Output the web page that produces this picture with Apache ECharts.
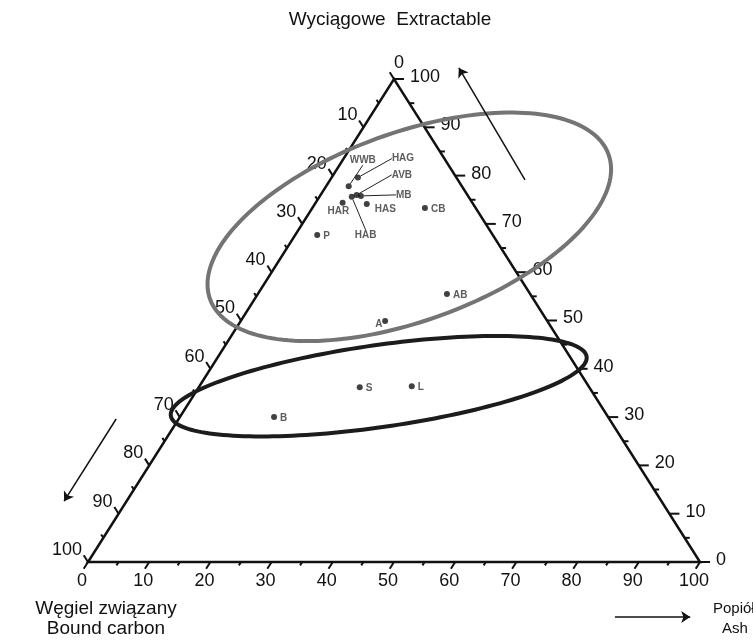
<!DOCTYPE html>
<html>
<head>
<meta charset="utf-8">
<title>Ternary diagram</title>
<script src="https://cdn.jsdelivr.net/npm/echarts@6/dist/echarts.min.js"></script>
<style>
  html, body { margin: 0; padding: 0; background: #fff; }
  #chart { width: 753px; height: 641px; }
</style>
</head>
<body>
<div id="chart"></div>
<script>
// samples, ternary percentages (bound carbon = 100 - extractable - ash)
const sampleNames = ['WWB', 'HAG', 'HAB', 'AVB', 'MB', 'HAS', 'HAR', 'CB', 'P', 'AB', 'A', 'S', 'L', 'B'];
const extractable = [77.8, 79.6, 75.6, 76.0, 75.8, 74.1, 74.4, 73.3, 67.7, 55.5, 49.9, 36.2, 36.4, 30.0];
const ash = [3.7, 4.3, 5.3, 5.9, 6.7, 8.5, 4.4, 18.4, 3.6, 30.9, 23.6, 26.3, 34.7, 15.4];

// axis ticks
const majorTicks = [0, 10, 20, 30, 40, 50, 60, 70, 80, 90, 100];
const tickLabels = ['0', '10', '20', '30', '40', '50', '60', '70', '80', '90', '100'];
const minorTicks = [5, 15, 25, 35, 45, 55, 65, 75, 85, 95];

// group ellipses: centre as (ash, extractable), semi-axes as vectors in diagram units
const ringCentreAsh = [17.8, 29.3];
const ringCentreExt = [69.4, 36.4];
const ringAxisU = [[32.55, 15.01], [33.97, 6.13]];
const ringAxisV = [[5.25, -18.29], [0.94, -8.41]];

// direction arrows, diagram units [x, y]
const arrowFrom = [[71.4, 79.1], [4.6, 29.6], [86.1, -11.4]];
const arrowTo = [[60.6, 102.3], [-3.9, 12.6], [98.4, -11.4]];

// ternary -> diagram coords (x = ash + ext/2, y = ext)
function tern(a, e) {
  return [a + e / 2, e];
}

const FONT = '"Liberation Sans", Arial, sans-serif';

// label placement per sample: [dx, dy, leader line]
const labelMove = {
  WWB: [-5, -26, true], HAG: [28, -19, true], AVB: [29, -20, true], MB: [29, -1, true],
  HAB: [-3, 38, true], HAS: [2, 5, false], HAR: [-21, 9, false], A: [-16, 3, false]
};

const chart = echarts.init(document.getElementById('chart'));

function renderFrame(params, api) {
  const A = api.coord(tern(0, 0));     // bound carbon corner
  const B = api.coord(tern(100, 0));   // ash corner
  const C = api.coord(tern(0, 100));   // extractable corner
  const unit = (p, q) => {
    const dx = q[0] - p[0], dy = q[1] - p[1];
    const l = Math.sqrt(dx * dx + dy * dy);
    return [dx / l, dy / l];
  };
  const dBottom = unit(C, A);   // down-left
  const dLeft = unit(B, C);     // up-left
  const dRight = [1, 0];
  const kids = [];
  kids.push({
    type: 'polygon',
    shape: { points: [A, B, C] },
    style: { fill: 'none', stroke: '#111', lineWidth: 2.5, lineJoin: 'miter' }
  });
  function tick(p, d, len) {
    kids.push({
      type: 'line',
      shape: { x1: p[0], y1: p[1], x2: p[0] + d[0] * len, y2: p[1] + d[1] * len },
      style: { stroke: '#111', lineWidth: 2 }
    });
  }
  function text(str, x, y, align, vAlign) {
    kids.push({
      type: 'text',
      style: {
        text: str, x: x, y: y, align: align, verticalAlign: vAlign,
        font: '18px ' + FONT, fill: '#111'
      }
    });
  }
  majorTicks.forEach((k, i) => {
    // bottom: ash
    const pb = api.coord(tern(k, 0));
    tick(pb, dBottom, 8);
    text(tickLabels[i], pb[0] - 6, pb[1] + 10, 'center', 'top');
    // left: bound carbon
    const pl = api.coord(tern(0, 100 - k));
    tick(pl, dLeft, 8);
    if (k === 0) {
      text(tickLabels[i], pl[0] + 5, pl[1] - 7, 'center', 'bottom');
    } else {
      text(tickLabels[i], pl[0] - 6, pl[1] - 3, 'right', 'bottom');
    }
    // right: extractable
    const pr = api.coord(tern(100 - k, k));
    tick(pr, dRight, 10);
    text(tickLabels[i], pr[0] + 16, pr[1] - 2, 'left', 'middle');
  });
  minorTicks.forEach(k => {
    tick(api.coord(tern(k, 0)), dBottom, 4);
    tick(api.coord(tern(0, 100 - k)), dLeft, 4);
    tick(api.coord(tern(100 - k, k)), dRight, 5);
  });
  return { type: 'group', children: kids };
}

function renderRing(params, api) {
  const i = params.dataIndex;
  const c = tern(ringCentreAsh[i], ringCentreExt[i]);
  const u = ringAxisU[i], v = ringAxisV[i];
  const pts = [];
  for (let s = 0; s <= 180; s++) {
    const t = s / 180 * Math.PI * 2;
    pts.push(api.coord([
      c[0] + u[0] * Math.cos(t) + v[0] * Math.sin(t),
      c[1] + u[1] * Math.cos(t) + v[1] * Math.sin(t)
    ]));
  }
  return {
    type: 'polygon',
    shape: { points: pts },
    style: { fill: 'none', stroke: i === 0 ? '#747474' : '#1c1c1c', lineWidth: 4 }
  };
}

const sampleData = sampleNames.map((name, i) => {
  const m = labelMove[name];
  return {
    name: name,
    value: tern(ash[i], extractable[i]),
    labelLine: { show: !!(m && m[2]) }
  };
});

const option = {
  animation: false,
  grid: { left: 0, right: 0, top: 0, bottom: 0 },
  xAxis: { type: 'value', min: -14.38, max: 108.66, show: false },
  yAxis: { type: 'value', min: -16.36, max: 116.36, show: false },
  graphic: [
    { type: 'text', x: 390, y: 20,
      style: { text: 'Wyciągowe  Extractable', font: '19px ' + FONT, fill: '#111',
               align: 'center', verticalAlign: 'middle' } },
    { type: 'text', x: 106, y: 599,
      style: { text: 'Węgiel związany\nBound carbon', font: '19px ' + FONT, fill: '#111',
               align: 'center', lineHeight: 20 } },
    { type: 'text', x: 713, y: 601,
      style: { text: 'Popiół', font: '15px ' + FONT, fill: '#111', align: 'left' } },
    { type: 'text', x: 735, y: 621,
      style: { text: 'Ash', font: '15px ' + FONT, fill: '#111', align: 'center' } }
  ],
  series: [
    {
      type: 'custom',
      coordinateSystem: 'cartesian2d',
      renderItem: renderFrame,
      data: [[0, 0]],
      clip: false,
      silent: true,
      z: 1
    },
    {
      type: 'custom',
      coordinateSystem: 'cartesian2d',
      renderItem: renderRing,
      data: ringCentreAsh.map((a, i) => tern(a, ringCentreExt[i])),
      clip: false,
      silent: true,
      z: 2
    },
    {
      type: 'lines',
      coordinateSystem: 'cartesian2d',
      data: arrowFrom.map((p, i) => ({ coords: [p, arrowTo[i]] })),
      symbol: ['none', 'arrow'],
      symbolSize: 9,
      lineStyle: { color: '#111', width: 1.5, opacity: 1 },
      silent: true,
      z: 2
    },
    {
      type: 'scatter',
      data: sampleData,
      symbol: 'circle',
      symbolSize: 6,
      itemStyle: { color: '#111' },
      label: {
        show: true,
        formatter: '{b}',
        position: 'right',
        distance: 3,
        fontFamily: FONT,
        fontSize: 10,
        fontWeight: 'bold',
        color: '#333'
      },
      labelLine: { show: false, lineStyle: { color: '#222', width: 1 } },
      labelLayout: function (p) {
        const m = labelMove[sampleNames[p.dataIndex]];
        return m ? { dx: m[0], dy: m[1] } : { dx: 0, dy: 1 };
      },
      z: 3
    }
  ]
};

chart.setOption(option);
</script>
</body>
</html>
